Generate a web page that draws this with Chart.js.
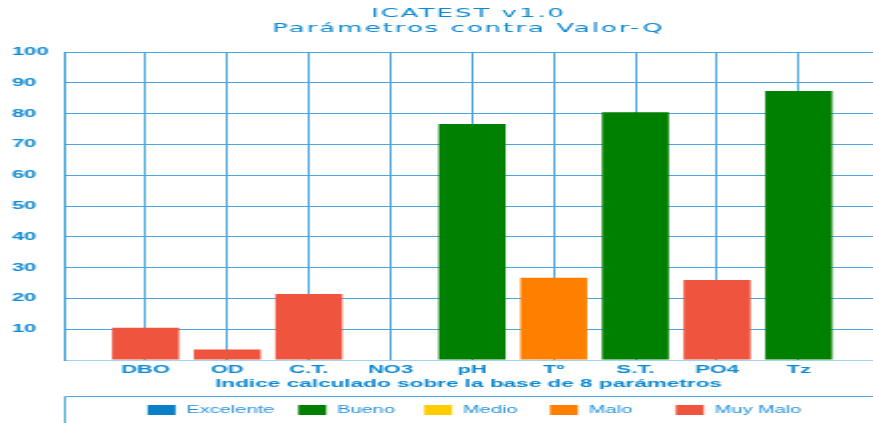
<!DOCTYPE html>
<html>
<head>
<meta charset="utf-8">
<script src="https://cdn.jsdelivr.net/npm/chart.js@4/dist/chart.umd.min.js"></script>
<style>
  html, body { margin: 0; padding: 0; background: #ffffff; overflow: hidden; }
  #wrap { width: 873px; height: 423px; }
</style>
</head>
<body>
<!-- the chart is rendered on a narrow canvas and shown stretched to full width -->
<div id="wrap"><canvas id="c" width="437" height="423" style="width:873px;height:423px;display:block"></canvas></div>
<script>
// Parameters of the water quality index and their Q values
const categories = ['DBO', 'OD', 'C.T.', 'NO3', 'pH', 'Tº', 'S.T.', 'PO4', 'Tz'];
const qValues = [10.5, 3.4, 21.4, null, 76.6, 26.7, 80.4, 26.0, 87.3];
const qClasses = ['Muy Malo', 'Muy Malo', 'Muy Malo', null, 'Bueno', 'Malo', 'Bueno', 'Muy Malo', 'Bueno'];

// Quality classes shown in the legend
const classNames = ['Excelente', 'Bueno', 'Medio', 'Malo', 'Muy Malo'];
const classColors = ['#0a80c8', '#008000', '#ffcc00', '#ff8000', '#ee543e'];

// Value axis
const yMin = 0;
const yMax = 100;
const yStep = 10;

const titleLines = ['ICATEST v1.0', 'Parámetros contra Valor-Q'];
const xTitle = 'Indice calculado sobre la base de 8 parámetros';

const BLUE_TEXT = '#0c89d0';
const GRID = '#4aa6dd';
const GRID_LIGHT = '#a3d2f0';

// one dataset per quality class; each bar sits at its parameter position
const datasets = classNames.map((name, k) => ({
  label: name,
  backgroundColor: classColors[k],
  borderWidth: 0,
  data: categories
    .map((c, i) => (qClasses[i] === name && qValues[i] !== null) ? { x: i + 1, y: qValues[i] } : null)
    .filter(p => p !== null)
}));

// boxed legend below the axis title
const classLegend = {
  id: 'classLegend',
  afterDraw(chart) {
    const { ctx, chartArea } = chart;
    const top = chart.height - 27;
    ctx.save();
    ctx.strokeStyle = GRID;
    ctx.lineWidth = 1;
    ctx.beginPath();
    ctx.moveTo(chartArea.left + 0.5, chart.height);
    ctx.lineTo(chartArea.left + 0.5, top + 0.5);
    ctx.lineTo(chart.width, top + 0.5);
    ctx.stroke();

    ctx.font = '10px "Liberation Sans", Arial, sans-serif';
    const boxW = 14, boxH = 10, gap = 5.5, pad = 12, minSlot = 63;
    const items = chart.data.datasets.map(ds => ({
      text: ds.label,
      color: ds.backgroundColor,
      w: ctx.measureText(ds.label).width
    }));
    const slots = items.map(it => Math.max(minSlot, boxW + gap + it.w + pad));
    const last = items[items.length - 1];
    const total = slots.slice(0, -1).reduce((a, b) => a + b, 0) + boxW + gap + last.w;
    let x = (chartArea.left + chartArea.right) / 2 - total / 2 + 3;
    const cy = top + 14;
    ctx.textBaseline = 'middle';
    ctx.textAlign = 'left';
    items.forEach((it, i) => {
      ctx.fillStyle = it.color;
      ctx.fillRect(x, cy - boxH / 2, boxW, boxH);
      ctx.fillStyle = '#2592d8';
      ctx.fillText(it.text, x + boxW + gap, cy);
      x += slots[i];
    });
    ctx.restore();
  }
};

const canvas = document.getElementById('c');
const chart = new Chart(canvas, {
  type: 'bar',
  data: { datasets },
  plugins: [classLegend],
  options: {
    responsive: false,
    animation: false,
    devicePixelRatio: 1,
    layout: { padding: { left: 6, right: 0, top: 0, bottom: 27 } },
    datasets: {
      bar: { grouped: false, categoryPercentage: 1, barPercentage: 0.82 }
    },
    plugins: {
      legend: { display: false },
      tooltip: { enabled: false },
      title: {
        display: true,
        fullSize: false,
        position: 'top',
        text: titleLines,
        color: BLUE_TEXT,
        font: { family: '"DejaVu Sans", sans-serif', size: 13, weight: 'normal', lineHeight: '15px' },
        padding: { top: 6.5, bottom: 15.5 }
      }
    },
    scales: {
      x: {
        type: 'linear',
        offset: false,
        min: 0,
        max: 9.91,
        afterFit(scale) { scale.height = 36; },
        ticks: {
          stepSize: 1,
          includeBounds: false,
          autoSkip: false,
          maxRotation: 0,
          padding: 3,
          color: BLUE_TEXT,
          font: { family: '"Liberation Sans", Arial, sans-serif', size: 11, weight: 'bold' },
          callback: v => categories[v - 1] || ''
        },
        grid: { offset: false, color: GRID, lineWidth: 1, drawTicks: false },
        border: { display: true, color: GRID_LIGHT, width: 1 },
        title: {
          display: true,
          text: xTitle,
          color: BLUE_TEXT,
          font: { family: '"Liberation Sans", Arial, sans-serif', size: 11.3, weight: 'bold' },
          padding: { top: 0, bottom: 5 }
        }
      },
      y: {
        min: yMin,
        max: yMax,
        afterFit(scale) { scale.width = 26; },
        ticks: {
          stepSize: yStep,
          crossAlign: 'far',
          color: BLUE_TEXT,
          font: { family: '"Liberation Sans", Arial, sans-serif', size: 11, weight: 'bold' },
          callback: v => (v === 0 ? '' : String(v))
        },
        grid: {
          color: c => (c.tick && c.tick.value === 0 ? GRID_LIGHT : GRID),
          lineWidth: 1,
          drawTicks: false
        },
        border: { display: true, color: '#2a95d5', width: 1 }
      }
    }
  }
});

// the title is set with a little letter spacing
const titleBlock = chart.titleBlock;
const drawTitle = titleBlock.draw.bind(titleBlock);
titleBlock.draw = function (area) {
  const ctx = chart.ctx;
  ctx.save();
  ctx.letterSpacing = '1px';
  drawTitle(area);
  ctx.restore();
};
chart.draw();
canvas.style.width = '873px';
canvas.style.height = '423px';
</script>
</body>
</html>
